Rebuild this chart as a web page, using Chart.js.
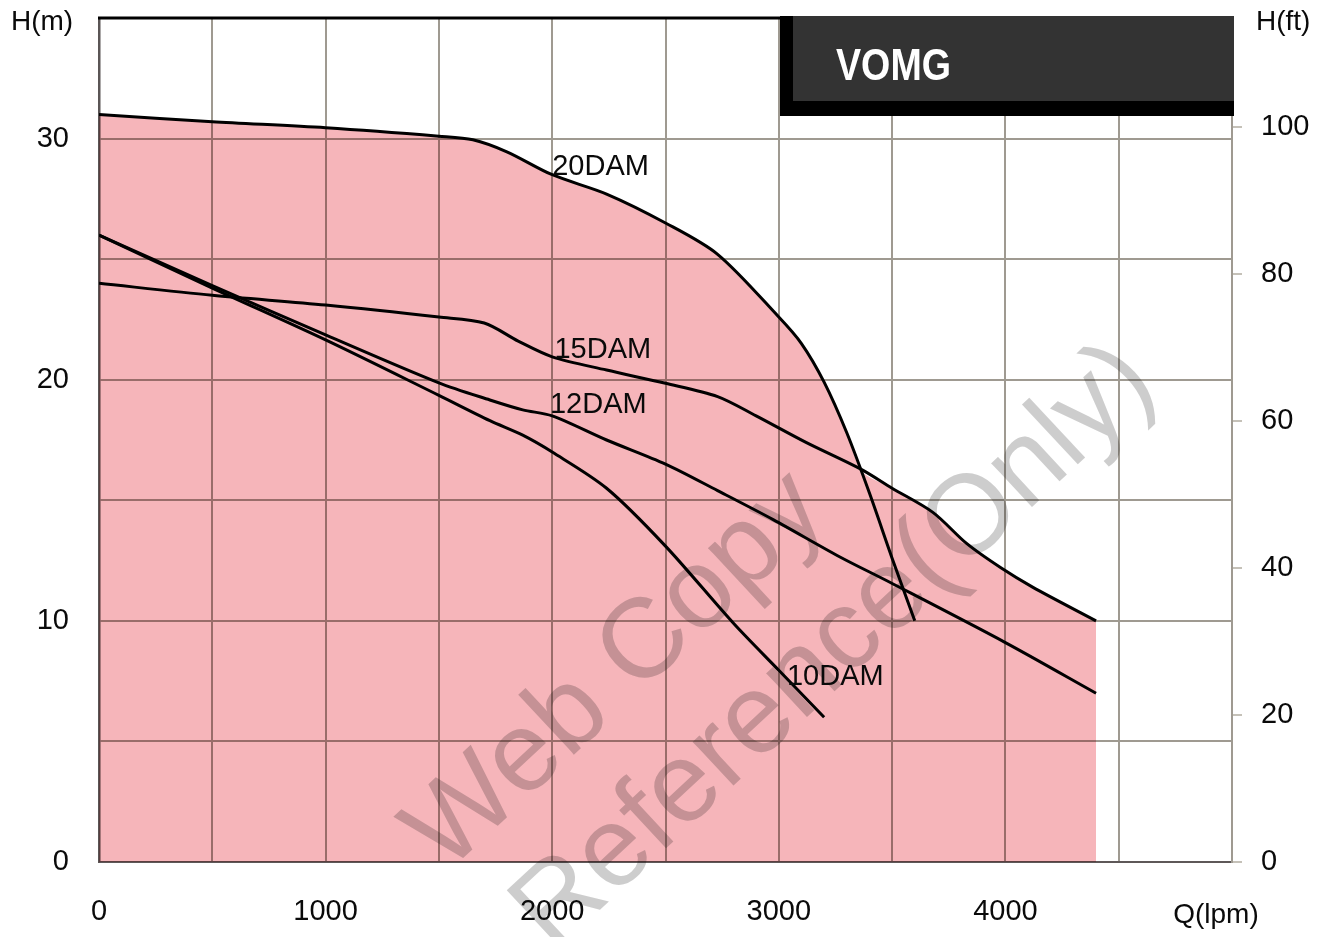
<!DOCTYPE html>
<html><head><meta charset="utf-8">
<script src="https://cdn.jsdelivr.net/npm/chart.js@4"></script>
<style>html,body{margin:0;padding:0;background:#fff}#wrap{width:1330px;height:937px;position:relative}canvas{display:block}</style>
</head><body><div id="wrap"><canvas id="c" width="1330" height="937"></canvas></div>
<script>
// ---- data ----
const q20 = [0, 500, 1000, 1500, 1650, 1800, 2000, 2240, 2500, 2730, 3000, 3100, 3200, 3300, 3400, 3500, 3600];
const h20 = [31.0, 30.7, 30.45, 30.1, 29.95, 29.45, 28.5, 27.7, 26.5, 25.2, 22.6, 21.5, 19.9, 17.8, 15.3, 12.6, 10.0];

const q15 = [0, 500, 1000, 1500, 1700, 1850, 2000, 2240, 2500, 2730, 2900, 3120, 3360, 3500, 3680, 3830, 3980, 4120, 4400];
const h15 = [24.0, 23.5, 23.1, 22.6, 22.35, 21.6, 20.95, 20.4, 19.85, 19.3, 18.5, 17.4, 16.3, 15.5, 14.5, 13.2, 12.2, 11.4, 10.0];

const q12 = [0, 500, 1000, 1500, 1725, 1870, 2000, 2240, 2500, 2730, 2975, 3270, 3490, 4000, 4400];
const h12 = [26.0, 23.9, 21.86, 19.87, 19.16, 18.75, 18.5, 17.5, 16.5, 15.4, 14.2, 12.65, 11.6, 9.1, 7.0];

const q10 = [0, 500, 1000, 1500, 1725, 1870, 2000, 2240, 2500, 2800, 3000, 3200];
const h10 = [26.0, 23.8, 21.65, 19.35, 18.3, 17.7, 17.0, 15.5, 13.1, 9.9, 7.95, 6.0];

// upper edge of the shaded operating range
const qFill = [0, 500, 1000, 1500, 1650, 1800, 2000, 2240, 2500, 2730, 3000, 3100, 3200, 3300, 3367, 3500, 3680, 3830, 3980, 4120, 4400];
const hFill = [31.0, 30.7, 30.45, 30.1, 29.95, 29.45, 28.5, 27.7, 26.5, 25.2, 22.6, 21.5, 19.9, 17.8, 16.2, 15.5, 14.5, 13.2, 12.2, 11.4, 10.0];

const curveNames = ['20DAM', '15DAM', '12DAM', '10DAM'];
const labelQ = [2000, 2010, 1990, 3036];
const labelH = [28.5, 20.9, 18.6, 7.35];

const xTickValues = [0, 1000, 2000, 3000, 4000];
const yTickValues = [0, 10, 20, 30];
const ftTickValues = [0, 20, 40, 60, 80, 100];
const titleText = 'VOMG';
const xTitle = 'Q(lpm)', yTitle = 'H(m)', y2Title = 'H(ft)';
const watermark1 = 'Web Copy', watermark2 = 'Reference(Only)';

const Q_MAX = 5000, H_MAX = 35, M_PER_FT = 0.3048;

// ---- build ----
const pts = (qs, hs) => qs.map((q, i) => ({x: q, y: hs[i]}));
const FONT = '"Liberation Sans", Arial, sans-serif';
const gridColor = '#9f9a91';
const TENSION = 0.3;

const curveDs = [[q20,h20],[q15,h15],[q12,h12],[q10,h10]].map((d, i) => ({
  label: curveNames[i], data: pts(d[0], d[1]), borderColor: '#000', borderWidth: 3,
  pointRadius: 0, fill: false, tension: TENSION, yAxisID: 'y'
}));

const fillDs = {
  label: 'range', data: pts(qFill, hFill), borderWidth: 0, borderColor: 'rgba(0,0,0,0)',
  backgroundColor: '#f6b5ba', pointRadius: 0, fill: 'origin', tension: TENSION, yAxisID: 'y'
};

const deco = {
  id: 'deco',
  beforeDraw(chart) {
    const c = chart.ctx; c.save(); c.fillStyle = '#fff'; c.fillRect(0, 0, chart.width, chart.height); c.restore();
  },
  beforeDatasetsDraw(chart) {
    chart.ctx.save(); chart.ctx.globalCompositeOperation = 'multiply';
  },
  afterDatasetsDraw(chart) {
    chart.ctx.restore();
    const c = chart.ctx, xs = chart.scales.x, ys = chart.scales.y;
    c.save();
    c.fillStyle = '#0a0a0a'; c.font = '29px ' + FONT; c.textAlign = 'left'; c.textBaseline = 'alphabetic';
    curveNames.forEach((n, i) => c.fillText(n, xs.getPixelForValue(labelQ[i]), ys.getPixelForValue(labelH[i])));
    c.restore();
  },
  afterDraw(chart) {
    const c = chart.ctx, a = chart.chartArea;
    // watermark
    c.save();
    c.globalCompositeOperation = 'multiply';
    c.fillStyle = '#cdcdcd';
    c.font = '113px ' + FONT; c.textAlign = 'center'; c.textBaseline = 'middle';
    c.save(); c.translate(617, 672); c.rotate(-43 * Math.PI / 180); c.fillText(watermark1, 0, 0); c.restore();
    c.save(); c.translate(835, 648); c.rotate(-43 * Math.PI / 180); c.fillText(watermark2, 0, 0); c.restore();
    c.restore();
    // top frame line
    const boxL = 780;
    c.save(); c.strokeStyle = '#000'; c.lineWidth = 3;
    c.beginPath(); c.moveTo(a.left - 1, a.top); c.lineTo(boxL, a.top); c.stroke(); c.restore();
    // title box
    c.save();
    c.fillStyle = '#000'; c.fillRect(boxL, 16, 1234 - boxL, 100);
    c.fillStyle = '#333333'; c.fillRect(boxL + 13, 16, 1234 - boxL - 13, 85);
    c.fillStyle = '#fff'; c.font = 'bold 45px "Liberation Sans Narrow", ' + FONT;
    c.textBaseline = 'alphabetic'; c.textAlign = 'left';
    const w = c.measureText(titleText).width, target = 115;
    c.translate(836, 80); c.scale(target / w, 1); c.fillText(titleText, 0, 0);
    c.restore();
    // axis titles
    c.save(); c.fillStyle = '#0a0a0a'; c.font = '28px ' + FONT; c.textBaseline = 'alphabetic';
    c.textAlign = 'left'; c.fillText(yTitle, 11, 30);
    c.textAlign = 'left'; c.fillText(y2Title, 1256, 30);
    c.textAlign = 'center'; c.fillText(xTitle, 1216, 923);
    c.restore();
  }
};

const noPadV = s => { s.paddingTop = 0; s.paddingBottom = 0; };
const tickFont = { family: FONT, size: 29 };

new Chart(document.getElementById('c'), {
  type: 'line',
  data: { datasets: [fillDs, ...curveDs] },
  options: {
    responsive: false, animation: false, devicePixelRatio: 1, events: [],
    layout: { padding: { top: 18, left: 0, right: 0, bottom: 0 } },
    plugins: { legend: { display: false }, tooltip: { enabled: false }, title: { display: false } },
    scales: {
      x: {
        type: 'linear', min: 0, max: Q_MAX,
        ticks: { stepSize: 500, autoSkip: false, maxRotation: 0, color: '#0a0a0a', font: tickFont, padding: 33,
          callback: v => xTickValues.includes(v) ? String(v) : '' },
        grid: { color: gridColor, lineWidth: 2, drawTicks: false },
        border: { color: '#5e5858', width: 2 },
        afterFit: s => { s.height = 75; s.paddingLeft = 0; s.paddingRight = 0; }
      },
      y: {
        type: 'linear', position: 'left', min: 0, max: H_MAX,
        ticks: { stepSize: 5, color: '#0a0a0a', font: tickFont, padding: 30,
          callback: v => yTickValues.includes(v) ? String(v) : '' },
        grid: { color: gridColor, lineWidth: 2, drawTicks: false },
        border: { color: '#5a5555', width: 2.5 },
        afterFit: s => { s.width = 99; noPadV(s); }
      },
      y2: {
        type: 'linear', position: 'right', min: 0, max: H_MAX / M_PER_FT,
        afterBuildTicks: s => { s.ticks = ftTickValues.map(v => ({ value: v })); },
        ticks: { color: '#0a0a0a', font: tickFont, padding: 19, callback: v => String(v) },
        grid: { drawOnChartArea: false, color: '#c5c1b8', lineWidth: 2, tickLength: 10 },
        border: { color: gridColor, width: 2 },
        afterFit: s => { s.width = 98; noPadV(s); }
      }
    }
  },
  plugins: [deco]
});
</script></body></html>
